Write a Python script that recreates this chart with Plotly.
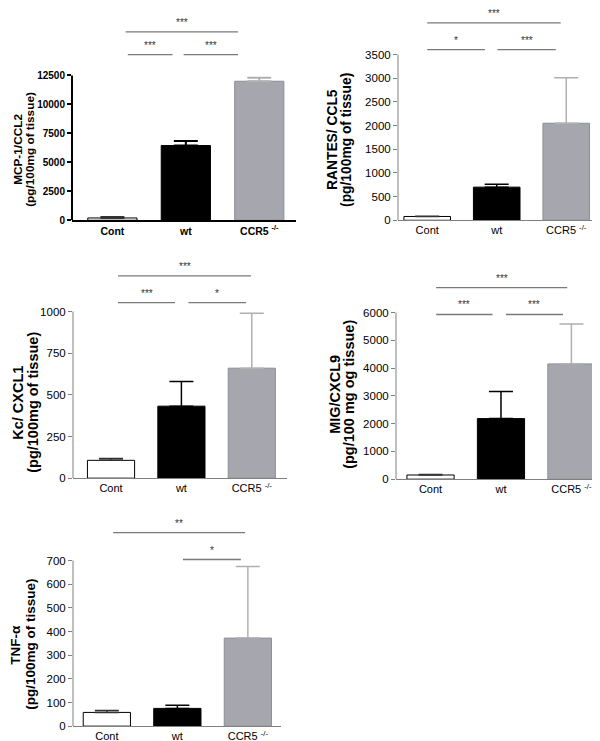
import plotly.graph_objects as go

# ---- data ---------------------------------------------------------------
CATEGORIES = ["Cont", "wt", "CCR5 <sup>-/-</sup>"]

MCP1_MEAN = [200, 6450, 12000]
MCP1_SEM = [90, 400, 300]
MCP1_TICKS = [0, 2500, 5000, 7500, 10000, 12500]

RANTES_MEAN = [80, 700, 2050]
RANTES_SEM = [5, 60, 960]
RANTES_TICKS = [0, 500, 1000, 1500, 2000, 2500, 3000, 3500]

KC_MEAN = [107, 432, 660]
KC_SEM = [11, 148, 330]
KC_TICKS = [0, 250, 500, 750, 1000]

MIG_MEAN = [150, 2180, 4150]
MIG_SEM = [20, 980, 1440]
MIG_TICKS = [0, 1000, 2000, 3000, 4000, 5000, 6000]

TNF_MEAN = [58, 75, 372]
TNF_SEM = [8, 13, 303]
TNF_TICKS = [0, 100, 200, 300, 400, 500, 600, 700]

# significance labels: (left bar, right bar, stars)
MCP1_SIG = [(0, 2, "***"), (0, 1, "***"), (1, 2, "***")]
RANTES_SIG = [(0, 2, "***"), (0, 1, "*"), (1, 2, "***")]
KC_SIG = [(0, 2, "***"), (0, 1, "***"), (1, 2, "*")]
MIG_SIG = [(0, 2, "***"), (0, 1, "***"), (1, 2, "***")]
TNF_SIG = [(0, 2, "**"), (1, 2, "*")]

# ---- layout ---------------------------------------------------------------
W, H = 600, 741
FONT = "Liberation Sans, Arial, sans-serif"
BAR_FILL = ["white", "black", "#a6a6ae"]
BAR_EDGE = ["black", "black", "#8e8e96"]
ERR_COLOR = ["#333333", "black", "#b0b0b0"]

panels = [
    dict(mean=MCP1_MEAN, sem=MCP1_SEM, ticks=MCP1_TICKS, sig=MCP1_SIG,
         lines=("MCP-1/CCL2", "(pg/100mg of tissue)"),
         box=(64, 288, 214, 68, 2), xr=(-0.55, 2.5), levels=(47, 24),
         spans={(0, 2): (0.18, 1.71), (0, 1): (0.21, 0.82), (1, 2): (0.97, 1.71)},
         tx=(10, 22), ty=143, tsize=11.8, bold=True),
    dict(mean=RANTES_MEAN, sem=RANTES_SEM, ticks=RANTES_TICKS, sig=RANTES_SIG,
         lines=("RANTES/ CCL5", "(pg/100mg of tissue)"),
         box=(390, 593, 214, 47, 0), xr=(-0.42, 2.5), levels=(42, 15),
         spans={(0, 2): (0.0, 1.92), (0, 1): (0.0, 0.83), (1, 2): (1.01, 1.85)},
         tx=(325, 339), ty=133, tsize=13.8, bold=False),
    dict(mean=KC_MEAN, sem=KC_SEM, ticks=KC_TICKS, sig=KC_SIG,
         lines=("Kc/ CXCL1", "(pg/100mg of tissue)"),
         box=(65, 279, 474, 306, 252), xr=(-0.54, 2.5), levels=(297, 270),
         spans={(0, 2): (0.1, 1.99), (0, 1): (0.1, 0.91), (1, 2): (1.1, 1.92)},
         tx=(10, 25), ty=398, tsize=14.5, bold=False),
    dict(mean=MIG_MEAN, sem=MIG_SEM, ticks=MIG_TICKS, sig=MIG_SIG,
         lines=("MIG/CXCL9", "(pg/100 mg og tissue)"),
         box=(388, 593, 475, 307, 262), xr=(-0.49, 2.42), levels=(309, 282),
         spans={(0, 2): (0.08, 1.94), (0, 1): (0.08, 0.88), (1, 2): (1.07, 1.88)},
         tx=(327, 341), ty=390, tsize=14.5, bold=False),
    dict(mean=TNF_MEAN, sem=TNF_SEM, ticks=TNF_TICKS, sig=TNF_SIG,
         lines=("TNF-α", "(pg/100mg of tissue)"),
         box=(65, 273, 724, 557, 505), xr=(-0.48, 2.47), levels=(556, 529),
         spans={(0, 2): (0.09, 1.96), (1, 2): (1.08, 1.9)},
         tx=(8, 23), ty=642, tsize=13.5, bold=False),
]

fig = go.Figure()
annotations = []
shapes = []
layout = {}

for n, p in enumerate(panels, start=1):
    sfx = "" if n == 1 else str(n)
    xa, ya = "x" + sfx, "y" + sfx
    left, right, y0, ytop, domtop = p["box"]
    top = p["ticks"][-1]
    per_px = top / (y0 - ytop)
    ymax = per_px * (y0 - domtop)
    axis_col = "black" if p["bold"] else "#808080"
    axis_w = 2 if p["bold"] else 1
    weight = "bold" if p["bold"] else "normal"

    for i in range(3):
        fig.add_trace(go.Bar(
            x=[i], y=[p["mean"][i]], width=0.67,
            marker=dict(color=BAR_FILL[i], line=dict(color=BAR_EDGE[i], width=1)),
            error_y=dict(type="data", array=[p["sem"][i]], arrayminus=[0],
                         symmetric=False, color=ERR_COLOR[i],
                         thickness=2 if p["bold"] else 1.5, width=12),
            xaxis=xa, yaxis=ya, showlegend=False,
        ))

    # significance brackets
    for (a, b, label) in p["sig"]:
        lvl = p["levels"][1] if (a, b) == (0, 2) else p["levels"][0]
        yv = per_px * (y0 - lvl)
        x0, x1 = p["spans"][(a, b)]
        fig.add_trace(go.Scatter(
            x=[x0, x1], y=[yv, yv], mode="lines",
            line=dict(color="#7a7a7a", width=1.3),
            xaxis=xa, yaxis=ya, showlegend=False, hoverinfo="skip",
        ))
        annotations.append(dict(
            x=(x0 + x1) / 2, y=yv, xref=xa, yref=ya, text=label,
            showarrow=False, yanchor="bottom", yshift=2,
            font=dict(family=FONT, size=10, color="#333333"),
        ))

    # y axis line only up to the top tick
    shapes.append(dict(
        type="line", xref=xa + " domain", yref=ya, x0=0, x1=0, y0=0, y1=top,
        line=dict(color=axis_col, width=axis_w),
    ))

    layout["xaxis" + sfx] = dict(
        domain=[left / W, right / W], range=list(p["xr"]), anchor=ya,
        tickvals=[0, 1, 2], ticktext=CATEGORIES, showgrid=False, zeroline=False,
        showline=True, linecolor=axis_col, linewidth=axis_w, ticks="",
        tickfont=dict(family=FONT, size=10.5 if p["bold"] else 11,
                      color="black", weight=weight),
        fixedrange=True,
    )
    layout["yaxis" + sfx] = dict(
        domain=[1 - y0 / H, 1 - domtop / H], range=[0, ymax], anchor=xa,
        tickvals=p["ticks"], tickformat="d", showgrid=False, zeroline=False,
        showline=False, ticks="outside", ticklen=4, tickwidth=axis_w,
        tickcolor=axis_col,
        tickfont=dict(family=FONT, size=10 if p["bold"] else 11.5,
                      color="black", weight=weight),
        fixedrange=True,
    )

    for k, line in enumerate(p["lines"]):
        annotations.append(dict(
            x=p["tx"][k] / W, y=1 - p["ty"] / H, xref="paper", yref="paper",
            text=line, textangle=-90, showarrow=False,
            xanchor="center", yanchor="middle",
            font=dict(family=FONT, size=p["tsize"], color="black", weight="bold"),
        ))

fig.update_layout(
    width=W, height=H, margin=dict(l=0, r=0, t=0, b=0),
    paper_bgcolor="white", plot_bgcolor="white",
    barmode="overlay", annotations=annotations, shapes=shapes,
    **layout,
)

fig.write_html("out.html")
